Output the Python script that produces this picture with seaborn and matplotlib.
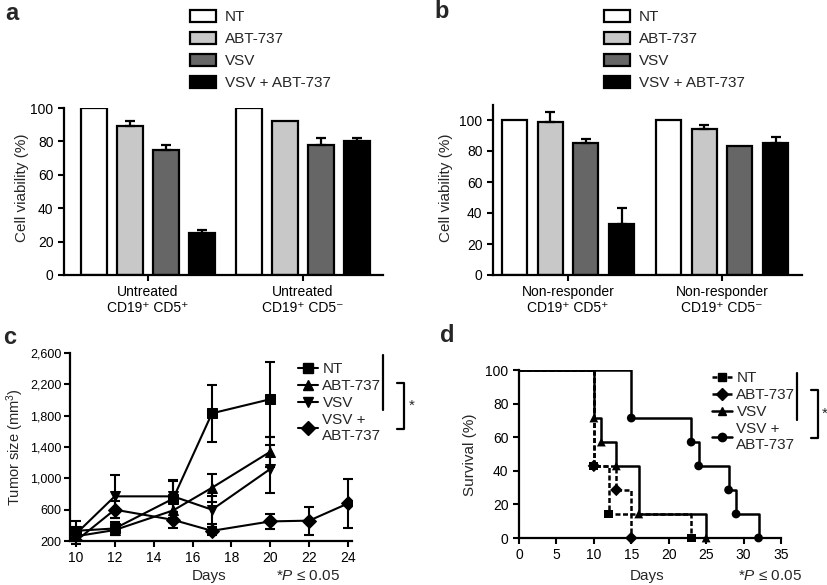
import numpy as np
import pandas as pd
import matplotlib
matplotlib.use("Agg")
import matplotlib.pyplot as plt
import seaborn as sns
from matplotlib.lines import Line2D

# ---------------- data ----------------
treatments = ["NT", "ABT-737", "VSV", "VSV + ABT-737"]
bar_colors = ["#ffffff", "#c8c8c8", "#666666", "#000000"]

a_groups = ["Untreated\nCD19\u207a CD5\u207a", "Untreated\nCD19\u207a CD5\u207b"]
a_means_g1 = [100, 89, 75, 25]
a_means_g2 = [100, 92, 78, 80]
a_err_g1 = [0, 3, 3, 2]
a_err_g2 = [0, 0, 4, 2]

b_groups = ["Non-responder\nCD19\u207a CD5\u207a", "Non-responder\nCD19\u207a CD5\u207b"]
b_means_g1 = [100, 99, 85, 33]
b_means_g2 = [100, 94, 83, 85]
b_err_g1 = [0, 6, 3, 10]
b_err_g2 = [0, 3, 0, 4]

c_series = ["NT", "ABT-737", "VSV", "VSV +\nABT-737"]
c_days = [10, 12, 15, 17, 20]
c_days_combo = [10, 12, 15, 17, 20, 22, 24]
c_nt = [330, 360, 740, 1830, 2010]
c_nt_err = [130, 80, 240, 365, 480]
c_abt = [260, 340, 590, 880, 1340]
c_abt_err = [50, 60, 90, 180, 190]
c_vsv = [290, 770, 770, 600, 1120]
c_vsv_err = [90, 270, 200, 180, 310]
c_combo = [200, 600, 470, 330, 450, 460, 680]
c_combo_err = [40, 110, 100, 50, 100, 180, 310]
c_yticks = [200, 600, 1000, 1400, 1800, 2200, 2600]
c_xticks = [10, 12, 14, 16, 18, 20, 22, 24]

d_series = ["NT", "ABT-737", "VSV", "VSV +\nABT-737"]
d_nt_t = [0, 10, 12, 23]
d_nt_s = [100, 42.9, 14.3, 0]
d_abt_t = [0, 10, 13, 15]
d_abt_s = [100, 42.9, 28.6, 0]
d_vsv_t = [0, 10, 11, 13, 16, 25]
d_vsv_s = [100, 71.4, 57.1, 42.9, 14.3, 0]
d_combo_t = [0, 15, 23, 24, 28, 29, 32]
d_combo_s = [100, 71.4, 57.1, 42.9, 28.6, 14.3, 0]

# ---------------- style ----------------
sns.set_style("ticks")
plt.rcParams["font.family"] = ["Liberation Sans", "DejaVu Sans"]
plt.rcParams["mathtext.fontset"] = "custom"
plt.rcParams["mathtext.rm"] = "Liberation Sans"
plt.rcParams["mathtext.it"] = "Liberation Sans:italic"
plt.rcParams["axes.linewidth"] = 1.6

W, H = 828, 585
fig = plt.figure(figsize=(W / 100, H / 100), dpi=100)


def px_axes(l, t, r, b):
    return fig.add_axes([l / W, 1 - b / H, (r - l) / W, (b - t) / H])


def fx(x):
    return x / W


def fy(y):
    return 1 - y / H


def style_ax(ax, labelsize=10):
    sns.despine(ax=ax)
    ax.tick_params(direction="out", length=4, width=1.5, labelsize=labelsize, colors="black")
    for s in ax.spines.values():
        s.set_linewidth(1.6)
        s.set_color("black")


def place_ylabel(ax, text, x, y, size=11):
    ax.set_ylabel(text, fontsize=size)
    ax.yaxis.set_label_coords(fx(x), fy(y), transform=fig.transFigure)
    ax.yaxis.label.set_verticalalignment("center")


def place_xlabel(ax, text, x, y):
    ax.set_xlabel(text, fontsize=11)
    ax.xaxis.set_label_coords(fx(x), fy(y), transform=fig.transFigure)
    ax.xaxis.label.set_verticalalignment("center")


def bar_panel(ax, groups, g1, g2, e1, e2, ylim, xlim, legend_pos, ylabel_pos):
    df = pd.DataFrame({
        "group": [groups[0]] * 4 + [groups[1]] * 4,
        "treatment": treatments * 2,
        "value": g1 + g2,
    })
    sns.barplot(data=df, x="group", y="value", hue="treatment", hue_order=treatments,
                palette=bar_colors, edgecolor="black", linewidth=1.6, width=0.93,
                gap=0.3, errorbar=None, saturation=1, ax=ax)
    conts = list(ax.containers)
    for i, cont in enumerate(conts):
        errs = [e1[i], e2[i]]
        for bar, err in zip(cont, errs):
            if err > 0:
                xc = bar.get_x() + bar.get_width() / 2
                ax.errorbar(xc, bar.get_height(), yerr=[[0], [err]], color="black",
                            capsize=3.8, elinewidth=1.6, capthick=1.6, clip_on=False)
    handles, labels = ax.get_legend_handles_labels()
    if ax.get_legend() is not None:
        ax.get_legend().remove()
    ax.legend(handles[:4], labels[:4], loc="upper left", bbox_to_anchor=legend_pos,
              bbox_transform=fig.transFigure, frameon=False, fontsize=11,
              handlelength=1.7, handleheight=0.85, labelspacing=0.5,
              handletextpad=0.6, borderpad=0, borderaxespad=0)
    ax.set_ylim(*ylim)
    ax.set_xlim(*xlim)
    ax.set_yticks([0, 20, 40, 60, 80, 100])
    ax.set_xlabel("")
    place_ylabel(ax, "Cell viability (%)", *ylabel_pos)
    style_ax(ax)
    ax.tick_params(axis="x", pad=3)


# ---------------- panel a ----------------
ax_a = px_axes(64, 108, 383, 275)
bar_panel(ax_a, a_groups, a_means_g1, a_means_g2, a_err_g1, a_err_g2,
          (0, 100), (-0.542, 1.516), (fx(190), fy(10)), (22, 188))

# ---------------- panel b ----------------
ax_b = px_axes(493, 104.5, 802, 275)
bar_panel(ax_b, b_groups, b_means_g1, b_means_g2, b_err_g1, b_err_g2,
          (0, 110), (-0.487, 1.52), (fx(604), fy(10)), (446, 188))

# ---------------- panel c ----------------
ax_c = px_axes(70, 353, 352, 541)
dfc = pd.concat([
    pd.DataFrame({"day": c_days, "size": c_nt, "err": c_nt_err, "series": c_series[0]}),
    pd.DataFrame({"day": c_days, "size": c_abt, "err": c_abt_err, "series": c_series[1]}),
    pd.DataFrame({"day": c_days, "size": c_vsv, "err": c_vsv_err, "series": c_series[2]}),
    pd.DataFrame({"day": c_days_combo, "size": c_combo, "err": c_combo_err, "series": c_series[3]}),
], ignore_index=True)
c_markers = ["s", "^", "v", "D"]
for name, sub in dfc.groupby("series", sort=False):
    ax_c.errorbar(sub["day"], sub["size"], yerr=sub["err"], fmt="none", ecolor="black",
                  elinewidth=1.5, capsize=3.5, capthick=1.5, clip_on=False, zorder=2)
sns.lineplot(data=dfc, x="day", y="size", hue="series", style="series",
             hue_order=c_series, style_order=c_series, palette=["black"] * 4,
             markers=c_markers, dashes=False, markersize=7, linewidth=1.5,
             markeredgecolor="black", errorbar=None, ax=ax_c, legend=False, zorder=3)
ax_c.set_xlim(9.7, 24.2)
ax_c.set_ylim(200, 2600)
ax_c.set_xticks(c_xticks)
ax_c.set_yticks(c_yticks)
ax_c.set_yticklabels([f"{v:,}" for v in c_yticks])
place_ylabel(ax_c, "Tumor size (mm$^3$)", 15, 447, size=10.5)
place_xlabel(ax_c, "Days", 209, 576)
style_ax(ax_c)
ax_c.tick_params(axis="y", labelsize=9, pad=2)
c_handles = [Line2D([], [], color="black", lw=1.5, marker=m, ms=7) for m in c_markers]
ax_c.legend(c_handles, c_series, loc="upper left", bbox_to_anchor=(fx(298), fy(362)),
            bbox_transform=fig.transFigure, frameon=False, fontsize=11,
            handlelength=1.3, labelspacing=0.2, handletextpad=0.3,
            borderpad=0, borderaxespad=0)

# ---------------- panel d ----------------
ax_d = px_axes(519, 370, 781, 538)
d_sets = [(d_nt_t, d_nt_s), (d_abt_t, d_abt_s), (d_vsv_t, d_vsv_s), (d_combo_t, d_combo_s)]
dfd = pd.concat([pd.DataFrame({"day": t, "surv": s, "series": d_series[i]})
                 for i, (t, s) in enumerate(d_sets)], ignore_index=True)
d_markers = ["s", "D", "^", "o"]
d_dashes = [(2, 1), (2, 1), "", ""]
sns.lineplot(data=dfd, x="day", y="surv", hue="series", style="series",
             hue_order=d_series, style_order=d_series, palette=["black"] * 4,
             dashes=d_dashes, markers=False, linewidth=1.8, drawstyle="steps-post",
             errorbar=None, ax=ax_d, legend=False)
dfd_pts = dfd[dfd["day"] > 0]
sns.scatterplot(data=dfd_pts, x="day", y="surv", hue="series", style="series",
                hue_order=d_series, style_order=d_series, palette=["black"] * 4,
                markers=d_markers, s=40, edgecolor="black", linewidth=0,
                ax=ax_d, legend=False, clip_on=False, zorder=4)
ax_d.set_xlim(0, 35)
ax_d.set_ylim(0, 100)
ax_d.set_xticks([0, 5, 10, 15, 20, 25, 30, 35])
ax_d.set_yticks([0, 20, 40, 60, 80, 100])
place_ylabel(ax_d, "Survival (%)", 470, 455)
place_xlabel(ax_d, "Days", 647, 576)
style_ax(ax_d)
d_ls = ["--", "--", "-", "-"]
d_handles = []
for m, ls in zip(d_markers, d_ls):
    h = Line2D([], [], color="black", lw=1.8, marker=m, ms=6)
    if ls == "--":
        h.set_dashes((2, 1))
    d_handles.append(h)
ax_d.legend(d_handles, d_series, loc="upper left", bbox_to_anchor=(fx(712), fy(371)),
            bbox_transform=fig.transFigure, frameon=False, fontsize=11,
            handlelength=1.3, labelspacing=0.2, handletextpad=0.3,
            borderpad=0, borderaxespad=0)

# ---------------- annotations ----------------
def fline(xs, ys):
    fig.add_artist(Line2D([fx(x) for x in xs], [fy(y) for y in ys], color="black",
                          lw=1.6, transform=fig.transFigure))

# panel c significance marks
fline([383, 383], [355, 410])
fline([397, 404, 404, 397], [383, 383, 429, 429])
fig.text(fx(409), fy(406), "*", fontsize=11, ha="left", va="center")
# panel d significance marks
fline([797, 797], [373, 420])
fline([811, 818, 818, 811], [390, 390, 438, 438])
fig.text(fx(822), fy(414), "*", fontsize=11, ha="left", va="center")

fig.text(fx(308), fy(576), "*$P$ \u2264 0.05", fontsize=11, ha="center", va="center")
fig.text(fx(770), fy(576), "*$P$ \u2264 0.05", fontsize=11, ha="center", va="center")

# panel letters
for letter, x, y in [("a", 12, 14), ("b", 442, 12), ("c", 10, 337), ("d", 447, 336)]:
    fig.text(fx(x), fy(y), letter, fontsize=17, fontweight="bold", ha="center", va="center")

fig.savefig("out.png", dpi=100)
